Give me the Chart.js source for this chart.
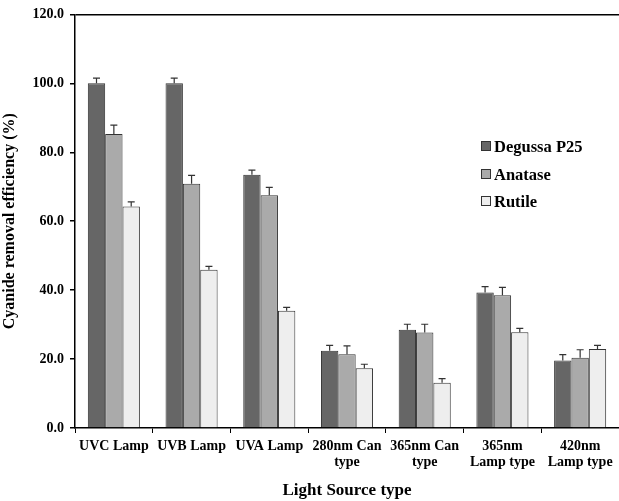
<!DOCTYPE html>
<html>
<head>
<meta charset="utf-8">
<script src="https://cdn.jsdelivr.net/npm/chart.js@4/dist/chart.umd.min.js"></script>
<style>
    html, body { margin: 0; padding: 0; background: #fff; }
    #wrap { position: relative; width: 619px; height: 501px; }
    #legend {
        position: absolute; left: 481px; top: 136px;
        font: bold 16.5px "Liberation Serif", "Times New Roman", serif; color: #000;
    }
    #legend div { height: 27.5px; line-height: 22px; white-space: nowrap; }
    #legend span.box {
        display: inline-block; width: 8px; height: 8px; border: 1px solid #333;
        margin-right: 3px; vertical-align: 1px;
    }
</style>
</head>
<body>
<div id="wrap">
    <canvas id="chart" width="619" height="501"></canvas>
    <div id="legend"></div>
</div>
<script>
const categories = [
    ['UVC Lamp'], ['UVB Lamp'], ['UVA Lamp'],
    ['280nm Can', 'type'], ['365nm Can', 'type'],
    ['365nm', 'Lamp type'], ['420nm', 'Lamp type']
];
const seriesNames = ['Degussa P25', 'Anatase', 'Rutile'];
const degussa = [100.0, 100.0, 73.5, 22.4, 28.5, 39.3, 19.6];
const anatase = [85.3, 70.9, 67.5, 21.4, 27.7, 38.5, 20.4];
const rutile = [64.3, 45.9, 34.0, 17.3, 13.1, 27.8, 22.9];
const degussaErr = [1.5, 1.5, 1.3, 1.6, 1.6, 1.7, 1.7];
const anataseErr = [2.6, 2.4, 2.3, 2.4, 2.4, 2.3, 2.3];
const rutileErr = [1.3, 1.0, 1.0, 1.2, 1.2, 1.1, 1.1];
const yTicks = [0, 20, 40, 60, 80, 100, 120];

const colors = ['#666666', '#aaaaaa', '#eeeeee'];
const font = '"Liberation Serif", "Times New Roman", serif';

// error bars drawn on top of each bar, using the y scale
const errorBars = {
    id: 'errorBars',
    afterDatasetsDraw(chart) {
        const ctx = chart.ctx;
        const yScale = chart.scales.y;
        ctx.save();
        ctx.strokeStyle = '#333';
        ctx.lineWidth = 1.2;
        chart.data.datasets.forEach(function (ds, i) {
            chart.getDatasetMeta(i).data.forEach(function (bar, j) {
                let top = yScale.getPixelForValue(ds.data[j] + ds.errors[j]);
                ctx.beginPath();
                ctx.moveTo(bar.x, bar.y);
                ctx.lineTo(bar.x, top);
                ctx.moveTo(bar.x - 3.5, top);
                ctx.lineTo(bar.x + 3.5, top);
                ctx.stroke();
            });
        });
        ctx.restore();
    }
};

const datasets = [degussa, anatase, rutile].map(function (values, i) {
    return {
        label: seriesNames[i],
        data: values,
        errors: [degussaErr, anataseErr, rutileErr][i],
        backgroundColor: colors[i],
        borderColor: '#333',
        borderWidth: 1,
        categoryPercentage: 0.67,
        barPercentage: 1.0
    };
});

new Chart(document.getElementById('chart'), {
    type: 'bar',
    data: { labels: categories, datasets: datasets },
    options: {
        responsive: false,
        animation: false,
        layout: { padding: { top: 12, right: 0, left: 0, bottom: 0 } },
        plugins: { legend: { display: false }, tooltip: { enabled: false } },
        scales: {
            x: {
                afterFit: function (scale) { scale.height = 73; },
                grid: { drawOnChartArea: false, offset: true, color: '#000', tickLength: 5 },
                border: { color: '#000', width: 1.5 },
                ticks: {
                    color: '#000', padding: 5,
                    font: { family: font, size: 14, weight: 'bold', lineHeight: 1.15 },
                    maxRotation: 0, autoSkip: false
                },
                title: {
                    display: true, text: 'Light Source type', color: '#000',
                    font: { family: font, size: 17, weight: 'bold' },
                    padding: { top: 6, bottom: 0 }
                }
            },
            y: {
                min: 0, max: 120,
                afterFit: function (scale) { scale.width = 75; },
                afterBuildTicks: function (scale) {
                    scale.ticks = yTicks.map(function (v) { return { value: v }; });
                },
                grid: {
                    drawOnChartArea: true, tickLength: 5, tickColor: '#000',
                    color: function (c) { return c.tick && c.tick.value === 120 ? '#000' : 'rgba(0,0,0,0)'; },
                    lineWidth: 1.5
                },
                border: { color: '#000', width: 1.5 },
                ticks: {
                    color: '#000', padding: 6,
                    font: { family: font, size: 14, weight: 'bold' },
                    callback: function (v) { return Number(v).toFixed(1); }
                },
                title: {
                    display: true, text: 'Cyanide removal efficiency (%)', color: '#000',
                    font: { family: font, size: 16, weight: 'bold' },
                    padding: { top: 0, bottom: 4 }
                }
            }
        }
    },
    plugins: [errorBars]
});

let legend = document.getElementById('legend');
seriesNames.forEach(function (name, i) {
    legend.innerHTML += '<div><span class="box" style="background:' + colors[i] + '"></span>' + name + '</div>';
});
</script>
</body>
</html>
